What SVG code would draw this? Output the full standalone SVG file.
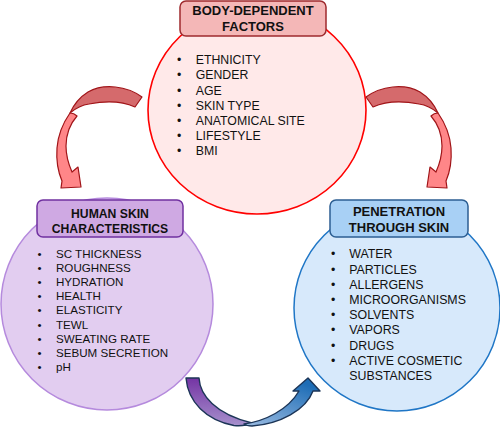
<svg xmlns="http://www.w3.org/2000/svg" width="500" height="427" viewBox="0 0 500 427">
<defs>
<style>
.list{font-family:"Liberation Sans",Arial,sans-serif;fill:#111;}
.title{font-family:"Liberation Sans",Arial,sans-serif;font-weight:bold;fill:#111;text-anchor:middle;}
.redarrow-back{fill:#D56A6C;stroke:#A01418;stroke-width:1.2;stroke-linejoin:round;}
.redarrow-front{fill:#FF8688;stroke:#A01418;stroke-width:1.2;stroke-linejoin:round;}
.botarrow{stroke:#1C3557;stroke-width:1.4;stroke-linejoin:round;}
</style>
<linearGradient id="gPurple" x1="0" y1="0" x2="0" y2="1">
<stop offset="0" stop-color="#7434A4"/>
<stop offset="1" stop-color="#A690CC"/>
</linearGradient>
<linearGradient id="gBlue" x1="0" y1="1" x2="0.6" y2="0">
<stop offset="0" stop-color="#9CBCE2"/>
<stop offset="1" stop-color="#1E6DB6"/>
</linearGradient>
</defs>
<rect width="500" height="427" fill="#FFFFFF"/>

<g id="node-body">
<ellipse cx="257" cy="110" rx="109" ry="104" fill="#FFE9E9" stroke="#FF0000" stroke-width="1.6"/>
<rect x="180" y="1" width="146" height="35" rx="6" fill="#F4B7B7" stroke="#9E2A2E" stroke-width="1.5"/>
<text class="title" font-size="13" x="253" y="15">BODY-DEPENDENT</text>
<text class="title" font-size="13" x="253" y="31">FACTORS</text>
<g class="list" font-size="12.3">
<text x="177" y="64.3">•</text><text x="195.7" y="64.3">ETHNICITY</text>
<text x="177" y="79.4">•</text><text x="195.7" y="79.4">GENDER</text>
<text x="177" y="94.5">•</text><text x="195.7" y="94.5">AGE</text>
<text x="177" y="109.6">•</text><text x="195.7" y="109.6">SKIN TYPE</text>
<text x="177" y="124.7">•</text><text x="195.7" y="124.7">ANATOMICAL SITE</text>
<text x="177" y="139.8">•</text><text x="195.7" y="139.8">LIFESTYLE</text>
<text x="177" y="154.9">•</text><text x="195.7" y="154.9">BMI</text>
</g>
</g>

<g id="node-skin">
<circle cx="107" cy="304" r="106" fill="#E2CDF0" stroke="#B58ADD" stroke-width="1.5"/>
<rect x="37" y="200" width="146" height="37" rx="6" fill="#CFA9E3" stroke="#7030A0" stroke-width="1.5"/>
<text class="title" font-size="12.2" x="110" y="218.3">HUMAN SKIN</text>
<text class="title" font-size="12.2" x="110" y="232.7">CHARACTERISTICS</text>
<g class="list" font-size="11.6">
<text x="37.5" y="257.6">•</text><text x="56" y="257.6">SC THICKNESS</text>
<text x="37.5" y="271.8">•</text><text x="56" y="271.8">ROUGHNESS</text>
<text x="37.5" y="286">•</text><text x="56" y="286">HYDRATION</text>
<text x="37.5" y="300.2">•</text><text x="56" y="300.2">HEALTH</text>
<text x="37.5" y="314.4">•</text><text x="56" y="314.4">ELASTICITY</text>
<text x="37.5" y="328.6">•</text><text x="56" y="328.6">TEWL</text>
<text x="37.5" y="342.8">•</text><text x="56" y="342.8">SWEATING RATE</text>
<text x="37.5" y="357">•</text><text x="56" y="357">SEBUM SECRETION</text>
<text x="37.5" y="371.2">•</text><text x="56" y="371.2">pH</text>
</g>
</g>

<g id="node-penetration">
<circle cx="397" cy="308" r="103" fill="#D7E9FB" stroke="#1F76C6" stroke-width="1.5"/>
<rect x="330" y="200" width="138" height="37" rx="6" fill="#A8D0F5" stroke="#2C5E92" stroke-width="1.5"/>
<text class="title" font-size="13" x="399" y="216">PENETRATION</text>
<text class="title" font-size="13" x="399" y="231.7">THROUGH SKIN</text>
<g class="list" font-size="12.35">
<text x="331" y="258.3">•</text><text x="349.3" y="258.3">WATER</text>
<text x="331" y="273.5">•</text><text x="349.3" y="273.5">PARTICLES</text>
<text x="331" y="288.7">•</text><text x="349.3" y="288.7">ALLERGENS</text>
<text x="331" y="303.9">•</text><text x="349.3" y="303.9">MICROORGANISMS</text>
<text x="331" y="319.1">•</text><text x="349.3" y="319.1">SOLVENTS</text>
<text x="331" y="334.3">•</text><text x="349.3" y="334.3">VAPORS</text>
<text x="331" y="349.5">•</text><text x="349.3" y="349.5">DRUGS</text>
<text x="331" y="364.7">•</text><text x="349.3" y="364.7">ACTIVE COSMETIC</text>
<text x="349.3" y="379.9">SUBSTANCES</text>
</g>
</g>

<g id="connectors">
<g id="arrow-left">
<path class="redarrow-back" d="M142,97 C127,86 104,83 88,92 C80,97 74,104 70,113 C76,108 82,105 89,104 C104,101 122,101 135,107 Z"/>
<path class="redarrow-front" d="M70,113 C63,123 58,135 57,148 C56,162 59,174 62,181 L61,188 L81,187 L78,167 L72,172 C68,163 66,153 66,146 C66,134 70,124 77,116 C75,114 72,113 70,113 Z"/>
</g>
<g id="arrow-right" transform="matrix(-1 0 0 1 508 0)">
<path class="redarrow-back" d="M142,97 C127,86 104,83 88,92 C80,97 74,104 70,113 C76,108 82,105 89,104 C104,101 122,101 135,107 Z"/>
<path class="redarrow-front" d="M70,113 C63,123 58,135 57,148 C56,162 59,174 62,181 L61,188 L81,187 L78,167 L72,172 C68,163 66,153 66,146 C66,134 70,124 77,116 C75,114 72,113 70,113 Z"/>
</g>
<g id="arrow-bottom">
<path class="botarrow" fill="url(#gPurple)" d="M186,378 L199,378 C200,395 215,414 252,423 C246,426 240,426 234,425.5 C206,420 188,402 186,378 Z"/>
<path class="botarrow" fill="url(#gBlue)" d="M244,424 C265,421 288,410 299,391 L293,391 L308,378 L320,391 L313,391 C306,410 280,424 252,426 C249,426 246,425.5 244,424 Z"/>
</g>
</g>
</svg>
